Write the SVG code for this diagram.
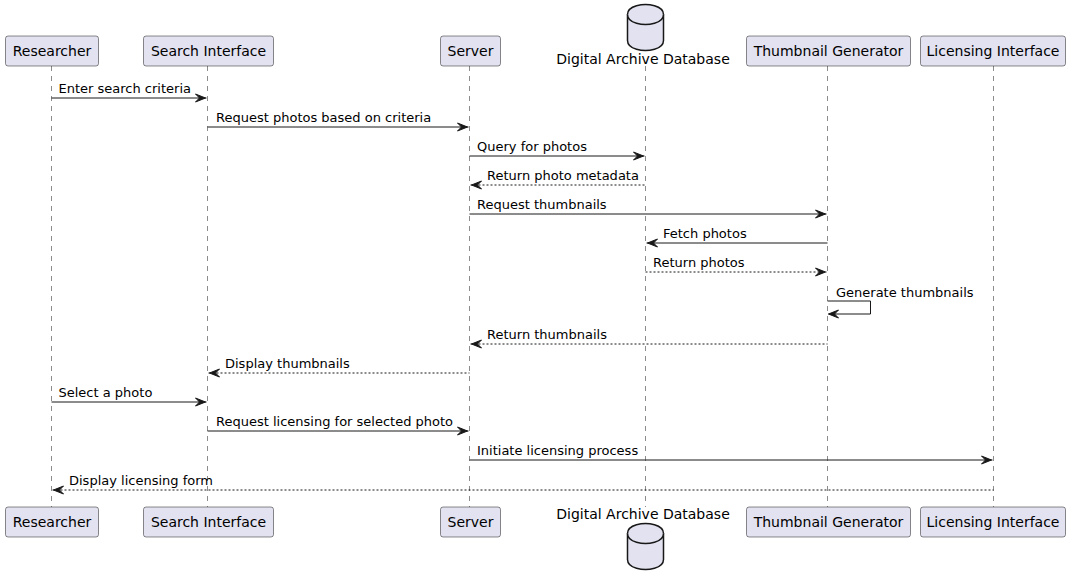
<svg xmlns="http://www.w3.org/2000/svg" width="1072" height="585" viewBox="0 0 1072 585">
<style>
.box{fill:#E2E2F0;stroke:#181818;stroke-width:0.5}
.db{fill:#E2E2F0;stroke:#181818;stroke-width:1.5}
.life{stroke:#181818;stroke-width:0.5;stroke-dasharray:5,5;fill:none}
.pt{font-family:"DejaVu Sans",sans-serif;font-size:14px;fill:#000;text-anchor:middle}
.mt{font-family:"DejaVu Sans",sans-serif;font-size:13px;fill:#000}
.m{stroke:#181818;stroke-width:1;fill:none}
.r{stroke:#181818;stroke-width:1;fill:none;stroke-dasharray:2,2}
.ah{fill:#181818;stroke:#181818;stroke-width:1}
</style>
<rect width="1072" height="585" fill="#FFFFFF"/>
<g id="lifelines">
<line class="life" x1="51.5" y1="66" x2="51.5" y2="507"/>
<line class="life" x1="207.5" y1="66" x2="207.5" y2="507"/>
<line class="life" x1="469.5" y1="66" x2="469.5" y2="507"/>
<line class="life" x1="645.5" y1="66" x2="645.5" y2="507"/>
<line class="life" x1="827.5" y1="66" x2="827.5" y2="507"/>
<line class="life" x1="993.5" y1="66" x2="993.5" y2="507"/>
</g>
<g id="researcher">
<rect class="box" x="5.5" y="36" width="93" height="30" rx="2.5"/>
<text class="pt" x="52" y="56">Researcher</text>
<rect class="box" x="5.5" y="507" width="93" height="30" rx="2.5"/>
<text class="pt" x="52" y="527">Researcher</text>
</g>
<g id="search">
<rect class="box" x="143.5" y="36" width="130" height="30" rx="2.5"/>
<text class="pt" x="208.5" y="56">Search Interface</text>
<rect class="box" x="143.5" y="507" width="130" height="30" rx="2.5"/>
<text class="pt" x="208.5" y="527">Search Interface</text>
</g>
<g id="server">
<rect class="box" x="440.5" y="36" width="60" height="30" rx="2.5"/>
<text class="pt" x="470.5" y="56">Server</text>
<rect class="box" x="440.5" y="507" width="60" height="30" rx="2.5"/>
<text class="pt" x="470.5" y="527">Server</text>
</g>
<g id="database">
<path class="db" d="M627.5,14.5 C627.5,4.5 645.5,4.5 645.5,4.5 C645.5,4.5 663.5,4.5 663.5,14.5 L663.5,40.5 C663.5,50.5 645.5,50.5 645.5,50.5 C645.5,50.5 627.5,50.5 627.5,40.5 Z"/>
<path class="db" fill="none" d="M627.5,14.5 C627.5,24.5 645.5,24.5 645.5,24.5 C645.5,24.5 663.5,24.5 663.5,14.5"/>
<text class="pt" x="643" y="64">Digital Archive Database</text>
<text class="pt" x="643" y="519">Digital Archive Database</text>
<path class="db" d="M627.5,533.5 C627.5,523.5 645.5,523.5 645.5,523.5 C645.5,523.5 663.5,523.5 663.5,533.5 L663.5,559.5 C663.5,569.5 645.5,569.5 645.5,569.5 C645.5,569.5 627.5,569.5 627.5,559.5 Z"/>
<path class="db" fill="none" d="M627.5,533.5 C627.5,543.5 645.5,543.5 645.5,543.5 C645.5,543.5 663.5,543.5 663.5,533.5"/>
</g>
<g id="thumb">
<rect class="box" x="746.5" y="36" width="164" height="30" rx="2.5"/>
<text class="pt" x="828.5" y="56">Thumbnail Generator</text>
<rect class="box" x="746.5" y="507" width="164" height="30" rx="2.5"/>
<text class="pt" x="828.5" y="527">Thumbnail Generator</text>
</g>
<g id="licensing">
<rect class="box" x="920.5" y="36" width="145" height="30" rx="2.5"/>
<text class="pt" x="993" y="56">Licensing Interface</text>
<rect class="box" x="920.5" y="507" width="145" height="30" rx="2.5"/>
<text class="pt" x="993" y="527">Licensing Interface</text>
</g>
<g id="connectors">
<line class="m" x1="51.5" y1="98" x2="206.5" y2="98"/>
<polygon class="ah" points="195.5,94 205.5,98 195.5,102 199.5,98"/>
<text class="mt" x="58.5" y="93">Enter search criteria</text>

<line class="m" x1="207.5" y1="127" x2="468.5" y2="127"/>
<polygon class="ah" points="457.5,123 467.5,127 457.5,131 461.5,127"/>
<text class="mt" x="216" y="122">Request photos based on criteria</text>

<line class="m" x1="469.5" y1="156" x2="644.5" y2="156"/>
<polygon class="ah" points="633.5,152 643.5,156 633.5,160 637.5,156"/>
<text class="mt" x="477" y="151">Query for photos</text>

<line class="r" x1="470.5" y1="185" x2="645.5" y2="185"/>
<polygon class="ah" points="481.5,181 471.5,185 481.5,189 477.5,185"/>
<text class="mt" x="487" y="180">Return photo metadata</text>

<line class="m" x1="469.5" y1="214" x2="826.5" y2="214"/>
<polygon class="ah" points="815.5,210 825.5,214 815.5,218 819.5,214"/>
<text class="mt" x="477" y="209">Request thumbnails</text>

<line class="m" x1="646.5" y1="243" x2="827.5" y2="243"/>
<polygon class="ah" points="657.5,239 647.5,243 657.5,247 653.5,243"/>
<text class="mt" x="663" y="238">Fetch photos</text>

<line class="r" x1="645.5" y1="272" x2="826.5" y2="272"/>
<polygon class="ah" points="815.5,268 825.5,272 815.5,276 819.5,272"/>
<text class="mt" x="653" y="267">Return photos</text>

<polyline class="m" points="827.5,301 870.5,301 870.5,314 828.5,314"/>
<polygon class="ah" points="838.5,310 828.5,314 838.5,318 834.5,314"/>
<text class="mt" x="836" y="297">Generate thumbnails</text>

<line class="r" x1="470.5" y1="344" x2="827.5" y2="344"/>
<polygon class="ah" points="481.5,340 471.5,344 481.5,348 477.5,344"/>
<text class="mt" x="487" y="339">Return thumbnails</text>

<line class="r" x1="208.5" y1="373" x2="469.5" y2="373"/>
<polygon class="ah" points="219.5,369 209.5,373 219.5,377 215.5,373"/>
<text class="mt" x="225" y="368">Display thumbnails</text>

<line class="m" x1="51.5" y1="402" x2="206.5" y2="402"/>
<polygon class="ah" points="195.5,398 205.5,402 195.5,406 199.5,402"/>
<text class="mt" x="58.5" y="397">Select a photo</text>

<line class="m" x1="207.5" y1="431" x2="468.5" y2="431"/>
<polygon class="ah" points="457.5,427 467.5,431 457.5,435 461.5,431"/>
<text class="mt" x="216" y="426">Request licensing for selected photo</text>

<line class="m" x1="469.5" y1="460" x2="992.5" y2="460"/>
<polygon class="ah" points="981.5,456 991.5,460 981.5,464 985.5,460"/>
<text class="mt" x="477" y="455">Initiate licensing process</text>

<line class="r" x1="52.5" y1="490" x2="993.5" y2="490"/>
<polygon class="ah" points="63.5,486 53.5,490 63.5,494 59.5,490"/>
<text class="mt" x="69" y="485">Display licensing form</text>
</g>
</svg>
